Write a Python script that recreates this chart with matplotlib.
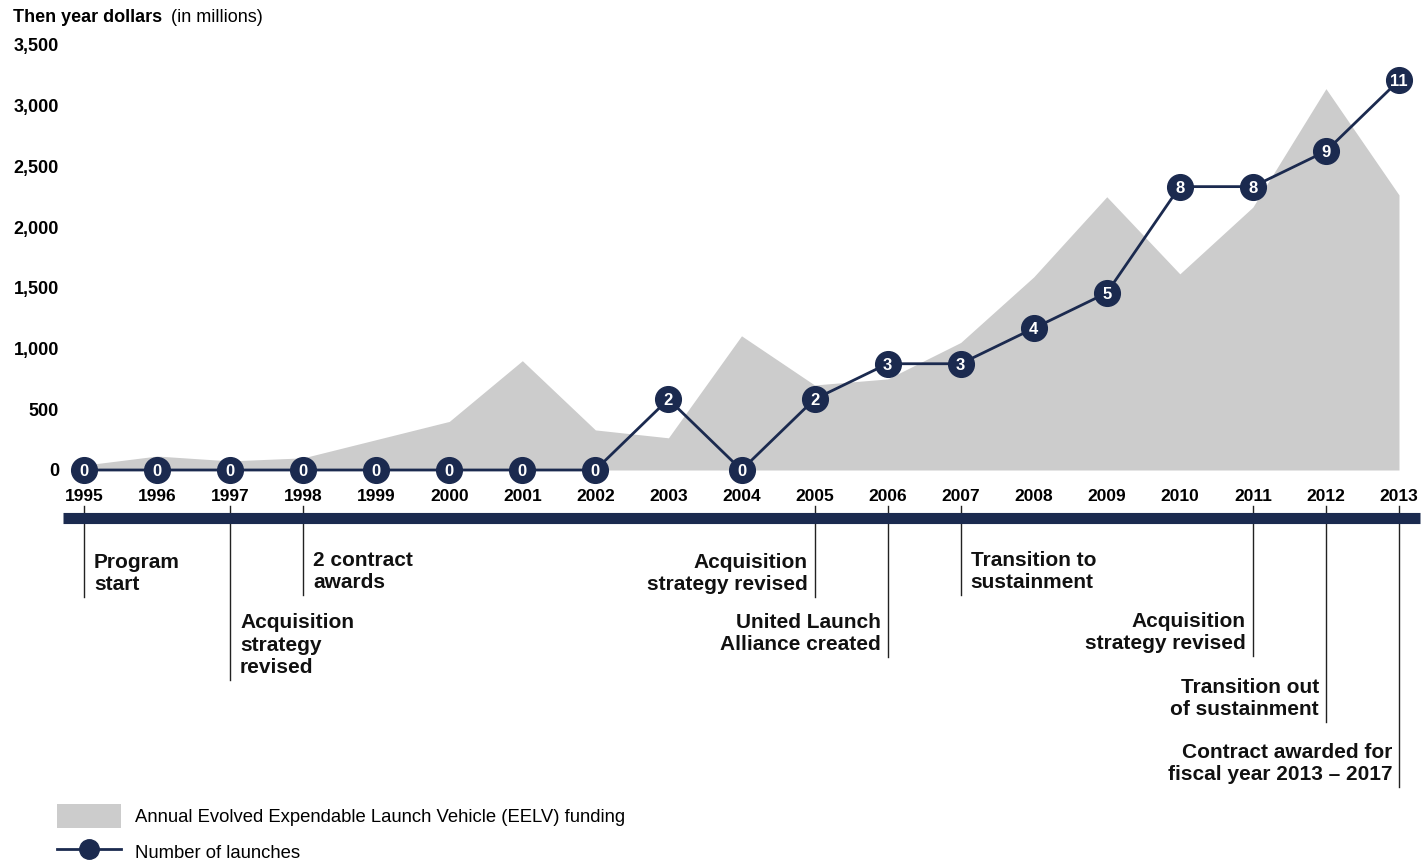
import matplotlib.pyplot as plt
import matplotlib.transforms as mtransforms
from matplotlib.lines import Line2D
from matplotlib.patches import Patch

plt.rcParams['font.family'] = ['Liberation Sans', 'DejaVu Sans']

years = list(range(1995, 2014))
funding = [40, 115, 75, 100, 250, 400, 900, 330, 265, 1105, 700, 750, 1050,
           1590, 2250, 1615, 2165, 3140, 2265]
launches = [0, 0, 0, 0, 0, 0, 0, 0, 2, 0, 2, 3, 3, 4, 5, 8, 8, 9, 11]

event_years = [1995, 1997, 1998, 2005, 2006, 2007, 2011, 2012, 2013]
event_labels = ['Program\nstart', 'Acquisition\nstrategy\nrevised', '2 contract\nawards',
                'Acquisition\nstrategy revised', 'United Launch\nAlliance created',
                'Transition to\nsustainment', 'Acquisition\nstrategy revised',
                'Transition out\nof sustainment',
                'Contract awarded for\nfiscal year 2013 \u2013 2017']
event_side = ['right', 'right', 'right', 'left', 'left', 'right', 'left', 'left', 'left']
event_end_px = [597, 680, 595, 597, 657, 595, 656, 722, 787]

navy = '#1b2a4f'
gray = '#cccccc'

W, H = 1423, 861
fig = plt.figure(figsize=(W / 100, H / 100), dpi=100)
# axes box in pixels: left 66, right 1420, bottom at y=470 (from top), top y=33
ax = fig.add_axes([66 / W, 1 - 470 / H, (1420 - 66) / W, (470 - 32.8) / H])
ax.set_xlim(1995 - 18 / 73.06, 2013 + 21 / 73.06)
ax.set_ylim(0, 3600)

ax.fill_between(years, funding, 0, color=gray, linewidth=0, zorder=1)

for s in ax.spines.values():
    s.set_visible(False)
ax.set_yticks(range(0, 3501, 500))
ax.set_yticklabels([f'{v:,}' for v in range(0, 3501, 500)], fontweight='bold', fontsize=13)
ax.set_xticks(years)
ax.set_xticklabels([str(y) for y in years], fontweight='bold', fontsize=12.5)
ax.tick_params(axis='y', length=0, pad=5)
ax.tick_params(axis='x', length=0, pad=13.5)

ax2 = ax.twinx()
ax2.set_ylim(0, 12 * 3600 / 3500)
ax2.axis('off')
ax2.plot(years, launches, color=navy, linewidth=2, marker='o', markersize=18.5,
         markerfacecolor=navy, markeredgecolor=navy, clip_on=False, zorder=3)
for y, n in zip(years, launches):
    ax2.text(y, n, str(n), color='white', fontsize=12, fontweight='bold',
             ha='center', va='center_baseline', zorder=4, clip_on=False)

# timeline below the chart
tr = mtransforms.blended_transform_factory(ax.transData, fig.transFigure)
x0, x1 = ax.get_xlim()
ax.plot([1995 - 21 / 73.06, x1], [1 - 518 / H, 1 - 518 / H], color=navy, linewidth=8,
        transform=tr, clip_on=False, solid_capstyle='butt', zorder=5)
for y, lab, side, end in zip(event_years, event_labels, event_side, event_end_px):
    ax.plot([y, y], [1 - 506 / H, 1 - end / H], color='#222222', linewidth=1,
            transform=tr, clip_on=False, zorder=4)
    off = 10 / 73.06 if side == 'right' else -7 / 73.06
    ax.text(y + off, 1 - (end - 3) / H, lab, transform=tr, fontsize=15, fontweight='bold',
            ha='left' if side == 'right' else 'right', va='bottom',
            multialignment='left' if side == 'right' else 'right', linespacing=1.22,
            color='#111111')

fig.text(13 / W, 1 - 17 / H, 'Then year dollars', fontsize=13, fontweight='bold',
         va='center', ha='left')
fig.text(171 / W, 1 - 17 / H, '(in millions)', fontsize=13, va='center', ha='left')

handles = [Patch(facecolor=gray, edgecolor='none'),
           Line2D([0], [0], color=navy, linewidth=2, marker='o', markersize=14,
                  markerfacecolor=navy, markeredgecolor=navy)]
fig.legend(handles, ['Annual Evolved Expendable Launch Vehicle (EELV) funding',
                     'Number of launches'],
           loc='upper left', bbox_to_anchor=(42 / W, 1 - 789 / H), frameon=False,
           fontsize=13.3, handlelength=3.46, handleheight=1.62, labelspacing=0.66,
           handletextpad=0.8, borderpad=0.3)

fig.savefig('out.png', dpi=100)
